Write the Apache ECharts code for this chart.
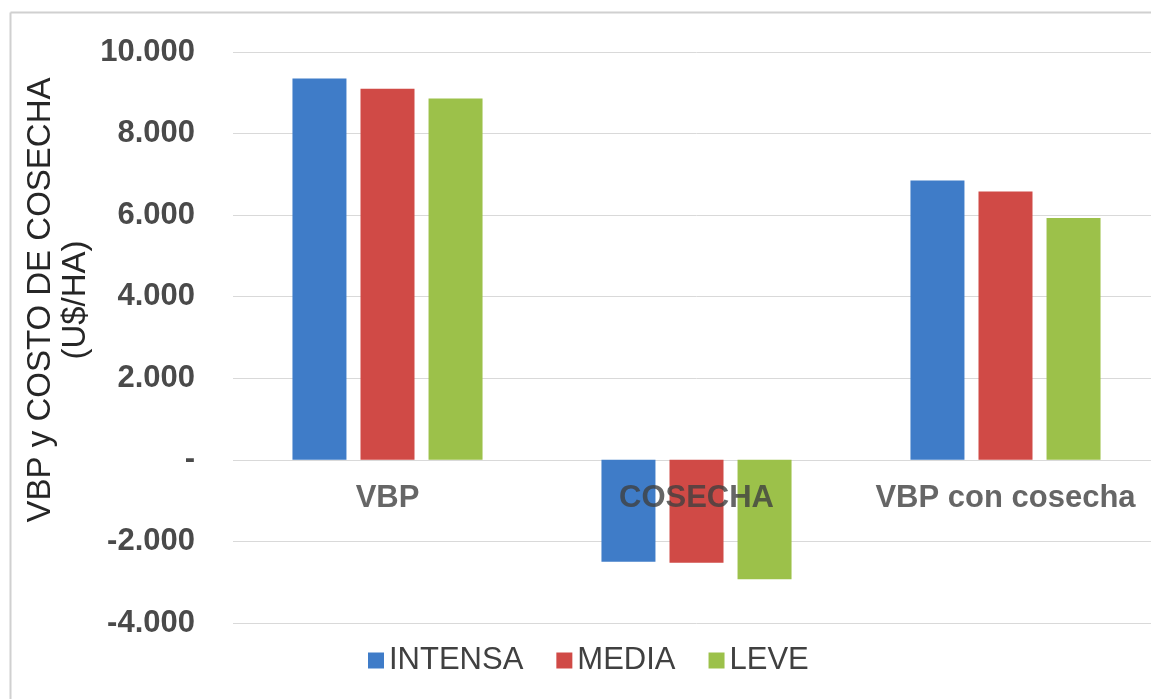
<!DOCTYPE html>
<html>
<head>
<meta charset="utf-8">
<script src="https://cdn.jsdelivr.net/npm/echarts@6/dist/echarts.min.js"></script>
<style>
  html, body { margin: 0; padding: 0; background: #ffffff; overflow: hidden; }
  #chart { width: 1160px; height: 699px; }
</style>
</head>
<body>
<div id="chart"></div>
<script>
// Categories and series (US$/ha)
var categories = ['VBP', 'COSECHA', 'VBP con cosecha'];
var intensa = [9350, -2500, 6850];
var media   = [9100, -2520, 6580];
var leve    = [8860, -2930, 5930];
var seriesNames = ['INTENSA', 'MEDIA', 'LEVE'];
var yTitle = 'VBP y COSTO DE COSECHA\n(U$/HA)';

var colors = ['#3f7cc8', '#d04a46', '#9cc14a'];
var FONT = '"Liberation Sans", Arial, sans-serif';

function fmtThousands(v) {
  if (v === 0) return '-';
  var s = String(Math.abs(v)).replace(/\B(?=(\d{3})+(?!\d))/g, '.');
  return (v < 0 ? '-' : '') + s;
}

var chart = echarts.init(document.getElementById('chart'), null, { renderer: 'canvas' });

function bar(name, data, color) {
  return {
    name: name,
    type: 'bar',
    data: data,
    barWidth: 54,
    barGap: '26%',
    itemStyle: { color: color },
    emphasis: { disabled: true }
  };
}

// category names sit just under the zero line
var zeroLabels = categories.map(function (c) { return [c, 0]; });

chart.setOption({
  animation: false,
  backgroundColor: '#ffffff',
  grid: { left: 233, right: 0, top: 52, bottom: 76, containLabel: false },
  legend: {
    data: seriesNames,
    left: 368,
    top: 645,
    padding: 0,
    icon: 'rect',
    itemWidth: 16,
    itemHeight: 16,
    itemGap: 33,
    textStyle: { fontFamily: FONT, fontSize: 31, color: '#404040' }
  },
  xAxis: {
    type: 'category',
    data: categories,
    axisLine: { show: false },
    axisTick: { show: false },
    axisLabel: { show: false }
  },
  yAxis: {
    type: 'value',
    min: -4000,
    max: 10000,
    interval: 2000,
    axisLine: { show: false },
    axisTick: { show: false },
    splitLine: { lineStyle: { color: '#d9d9d9', width: 1 } },
    axisLabel: {
      margin: 38,
      formatter: fmtThousands,
      fontFamily: FONT,
      fontSize: 31,
      fontWeight: 'bold',
      color: '#4a4a4a'
    }
  },
  series: [
    bar(seriesNames[0], intensa, colors[0]),
    bar(seriesNames[1], media, colors[1]),
    bar(seriesNames[2], leve, colors[2]),
    {
      name: 'categoryLabels',
      type: 'scatter',
      data: zeroLabels,
      symbolSize: 0,
      silent: true,
      z: 10,
      label: {
        show: true,
        position: 'bottom',
        distance: 23,
        formatter: function (p) { return p.value[0]; },
        fontFamily: FONT,
        fontSize: 31,
        fontWeight: 'bold',
        color: '#404040'
      }
    }
  ],
  graphic: [
    {
      type: 'line',
      shape: { x1: 10.5, y1: 12.5, x2: 1160, y2: 12.5 },
      style: { stroke: '#d0d0d0', lineWidth: 2 }
    },
    {
      type: 'line',
      shape: { x1: 10.5, y1: 12.5, x2: 10.5, y2: 699 },
      style: { stroke: '#d0d0d0', lineWidth: 2 }
    },
    {
      type: 'text',
      x: 58,
      y: 300,
      rotation: Math.PI / 2,
      style: {
        text: yTitle,
        font: '33px ' + FONT,
        fill: '#262626',
        align: 'center',
        verticalAlign: 'middle',
        lineHeight: 35
      }
    }
  ]
});
</script>
</body>
</html>
